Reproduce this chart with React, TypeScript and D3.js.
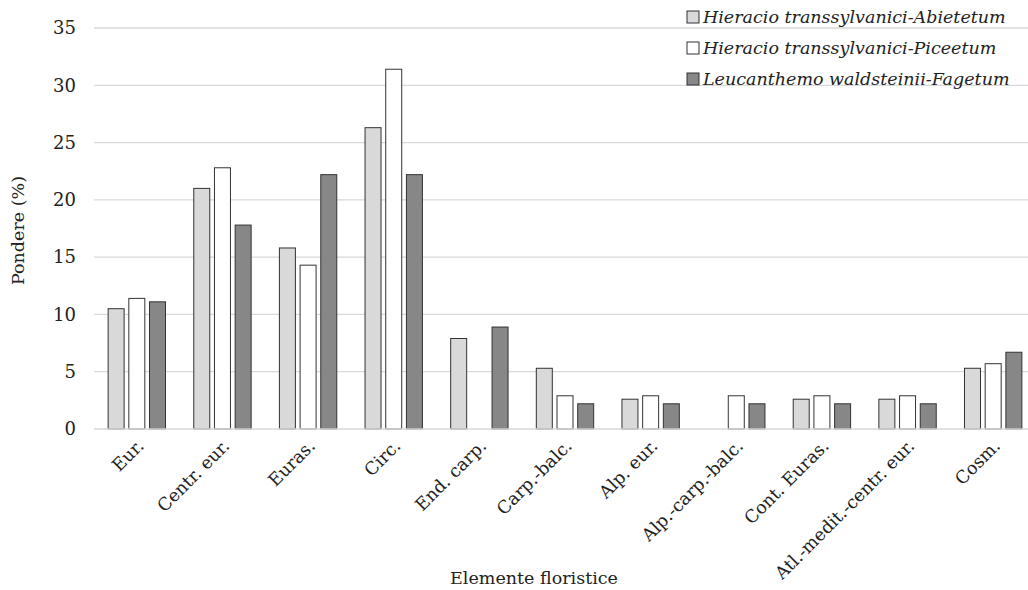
import React from "react";
import * as d3 from "d3";

const categories = [
  "Eur.",
  "Centr. eur.",
  "Euras.",
  "Circ.",
  "End. carp.",
  "Carp.-balc.",
  "Alp. eur.",
  "Alp.-carp.-balc.",
  "Cont. Euras.",
  "Atl.-medit.-centr. eur.",
  "Cosm.",
];

const seriesNames = [
  "Hieracio transsylvanici-Abietetum",
  "Hieracio transsylvanici-Piceetum",
  "Leucanthemo waldsteinii-Fagetum",
];

const abietetum = [10.5, 21.0, 15.8, 26.3, 7.9, 5.3, 2.6, 0, 2.6, 2.6, 5.3];
const piceetum = [11.4, 22.8, 14.3, 31.4, 0, 2.9, 2.9, 2.9, 2.9, 2.9, 5.7];
const fagetum = [11.1, 17.8, 22.2, 22.2, 8.9, 2.2, 2.2, 2.2, 2.2, 2.2, 6.7];

const seriesValues = [abietetum, piceetum, fagetum];
const seriesColors = ["#d9d9d9", "#ffffff", "#878787"];

const yTicks = [0, 5, 10, 15, 20, 25, 30, 35];

const W = 1028;
const H = 590;
const left = 94;
const right = 1036;
const top = 28;
const bottom = 429;
const font = "'DejaVu Serif', serif";

export default function App() {
  const x = d3.scaleBand<string>().domain(categories).range([left, right]).paddingInner(0).paddingOuter(0);
  const bw = x.bandwidth();
  const inner = d3
    .scaleBand<string>()
    .domain(seriesNames)
    .range([bw * 0.165, bw * 0.835])
    .paddingInner(0.227)
    .paddingOuter(0);
  const y = d3.scaleLinear().domain([0, 35]).range([bottom, top]);
  const ts: React.CSSProperties = { fontFamily: font };

  return (
    <svg width={W} height={H} style={{ position: "absolute", left: 0, top: 0, background: "#fff", fontFamily: font }}>
      {yTicks.map((t) => (
        <g key={t}>
          {t > 0 && <line x1={left} x2={W} y1={y(t)} y2={y(t)} stroke="#d9d9d9" strokeWidth={1.3} />}
          <text x={76} y={y(t)} dy="0.35em" textAnchor="end" fontSize={18} fill="#222" style={ts}>
            {t}
          </text>
        </g>
      ))}
      {seriesNames.map((s, si) =>
        categories.map((c, ci) => {
          const v = seriesValues[si][ci];
          if (!v) return null;
          const bx = (x(c) as number) + (inner(s) as number);
          return (
            <rect
              key={s + c}
              x={bx}
              y={y(v)}
              width={inner.bandwidth()}
              height={y(0) - y(v)}
              fill={seriesColors[si]}
              stroke="#333"
              strokeWidth={1}
            />
          );
        })
      )}
      <line x1={left} x2={W} y1={bottom} y2={bottom} stroke="#d9d9d9" strokeWidth={1.5} />
      {categories.map((c) => {
        const cx = (x(c) as number) + bw / 2;
        return (
          <text
            key={c}
            transform={`translate(${cx + 8},${bottom + 18}) rotate(-45)`}
            textAnchor="end"
            fontSize={17.5}
            fill="#222"
            style={ts}
          >
            {c}
          </text>
        );
      })}
      <text transform={`translate(24,${(top + bottom) / 2 + 2}) rotate(-90)`} textAnchor="middle" fontSize={17.5} fill="#222" style={ts}>
        Pondere (%)
      </text>
      <text x={534} y={584} textAnchor="middle" fontSize={17.5} fill="#222" style={ts}>
        Elemente floristice
      </text>
      {seriesNames.map((s, si) => (
        <g key={s} transform={`translate(687,${17 + si * 31})`}>
          <rect x={0} y={-6} width={12} height={12} fill={seriesColors[si]} stroke="#333" strokeWidth={1} />
          <text x={16} y={0} dy="0.35em" fontSize={17.5} fontStyle="italic" fill="#222" style={ts}>
            {s}
          </text>
        </g>
      ))}
    </svg>
  );
}
